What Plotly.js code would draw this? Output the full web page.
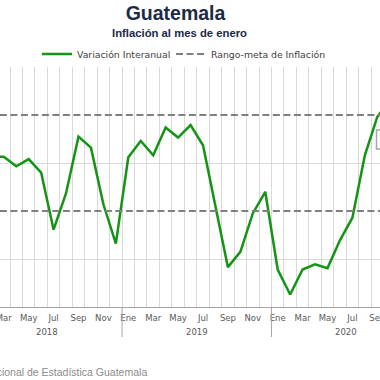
<!DOCTYPE html>
<html>
<head>
<meta charset="utf-8">
<script src="https://cdn.plot.ly/plotly-3.0.1.min.js"></script>
<style>
  html, body { margin: 0; padding: 0; background: #ffffff; }
  #chart { width: 380px; height: 380px; }
</style>
</head>
<body>
<div id="chart"></div>
<script>
// ---- Data ----
const years = ['2018', '2019', '2020'];
const monthNames = ['Ene', 'Feb', 'Mar', 'Abr', 'May', 'Jun', 'Jul', 'Ago', 'Sep', 'Oct', 'Nov', 'Dic'];
// Variación interanual (%), Jan 2018 .. Oct 2020
const inflation = [
  4.71, 4.13, 4.13, 3.93, 4.08, 3.80, 2.61, 3.37, 4.55, 4.32, 3.14, 2.32,
  4.12, 4.46, 4.16, 4.74, 4.53, 4.79, 4.37, 3.10, 1.83, 2.15, 2.95, 3.40,
  1.78, 1.26, 1.78, 1.89, 1.81, 2.39, 2.86, 4.16, 4.96, 5.30
];
const rangoMetaSup = 5;
const rangoMetaInf = 3;

// ---- Build month index positions (0 = Ene 2018) ----
const nMonths = years.length * 12;
const monthIdx = [];
for (let i = 0; i < nMonths; i++) monthIdx.push(i);
const inflX = inflation.map((v, i) => i);

// Target range: upper and lower bands in one trace, separated by a gap
const metaX = monthIdx.concat([null], monthIdx);
const metaY = monthIdx.map(() => rangoMetaSup).concat([null], monthIdx.map(() => rangoMetaInf));

// Tick labels every other month, centered on the month
const tickVals = [], tickText = [];
monthIdx.forEach(i => {
  if (i % 2 === 0) { tickVals.push(i); tickText.push(monthNames[i % 12]); }
});

const plotH = 380 - 67 - 73;
const pxToPaperY = py => (380 - 73 - py) / plotH;

const traces = [
  {
    x: inflX, y: inflation, type: 'scatter', mode: 'lines',
    name: 'Variación Interanual', legend: 'legend',
    line: { color: '#149414', width: 2.5 },
    hoverinfo: 'skip'
  },
  {
    x: metaX, y: metaY, type: 'scatter', mode: 'lines',
    name: 'Rango-meta de Inflación', legend: 'legend2',
    connectgaps: false,
    line: { color: '#808080', width: 2.2, dash: '7px,3.5px' },
    hoverinfo: 'skip'
  }
];

// Year labels and year separators
const annotations = [];
const shapes = [];
years.forEach((yr, k) => {
  annotations.push({
    text: yr, xref: 'x', yref: 'paper', x: k * 12 + 5.5, y: pxToPaperY(332),
    xanchor: 'center', yanchor: 'middle', showarrow: false,
    font: { family: 'DejaVu Sans', size: 8.5, color: '#595959' }
  });
  if (k > 0) {
    shapes.push({
      type: 'line', xref: 'x', yref: 'paper',
      x0: k * 12 - 0.5, x1: k * 12 - 0.5, y0: 0, y1: pxToPaperY(337),
      line: { color: '#a6a6a6', width: 1 }
    });
  }
});

annotations.push({
  text: '<b>Inflación al mes de enero</b>', xref: 'paper', yref: 'paper',
  x: 179.5 / 380, y: pxToPaperY(33), xanchor: 'center', yanchor: 'middle',
  showarrow: false,
  font: { family: 'Liberation Sans, Arial', size: 11.3, color: '#1b2a47' }
});
annotations.push({
  text: 'Fuente: Instituto Nacional de Estadística Guatemala', xref: 'paper', yref: 'paper',
  x: 149 / 380, y: pxToPaperY(372), xanchor: 'right', yanchor: 'middle',
  showarrow: false,
  font: { family: 'Liberation Sans, Arial', size: 10.5, color: '#8c8c8c' }
});

// Partially visible tooltip box at the right edge
shapes.push({
  type: 'rect', xref: 'paper', yref: 'paper', layer: 'above',
  x0: 376.5 / 380, x1: 395 / 380, y0: pxToPaperY(149), y1: pxToPaperY(130),
  line: { color: '#a6a6a6', width: 1.5 }, fillcolor: '#ffffff'
});

const legendCommon = {
  orientation: 'h', xref: 'paper', xanchor: 'left',
  y: pxToPaperY(54), yanchor: 'middle',
  font: { family: 'DejaVu Sans', size: 9.3, color: '#404040' },
  bgcolor: 'rgba(0,0,0,0)', borderwidth: 0
};

const layout = {
  width: 380, height: 380,
  margin: { l: 0, r: 0, t: 67, b: 73, pad: 0 },
  paper_bgcolor: '#ffffff', plot_bgcolor: '#ffffff',
  title: {
    text: '<b>Guatemala</b>', x: 175.5 / 380, xanchor: 'center',
    xref: 'container', y: 1 - 13.5 / 380, yref: 'container', yanchor: 'middle',
    font: { family: 'Liberation Sans, Arial', size: 19.5, color: '#1b2a47' }
  },
  showlegend: true,
  legend: Object.assign({}, legendCommon, { x: 37 / 380 }),
  legend2: Object.assign({}, legendCommon, { x: 171 / 380 }),
  xaxis: {
    type: 'linear', range: [1.695, 32.217], fixedrange: true,
    tickmode: 'array', tickvals: tickVals, ticktext: tickText,
    showgrid: false, zeroline: false, ticks: '',
    ticklabeloverflow: 'allow', ticklabelstandoff: 3,
    showline: true, linecolor: '#a6a6a6', linewidth: 1,
    tickfont: { family: 'DejaVu Sans', size: 8.5, color: '#595959' },
    minor: { tick0: 0.5, dtick: 1, showgrid: true, gridcolor: '#d9d9d9', gridwidth: 1, ticks: '' }
  },
  yaxis: {
    range: [1, 6], fixedrange: true,
    tickmode: 'array', tickvals: [2, 4, 6],
    showticklabels: false, ticks: '',
    showgrid: true, gridcolor: '#d9d9d9', gridwidth: 1,
    zeroline: false, showline: false
  },
  annotations: annotations,
  shapes: shapes
};

Plotly.newPlot('chart', traces, layout, { displayModeBar: false, staticPlot: true });
</script>
</body>
</html>
